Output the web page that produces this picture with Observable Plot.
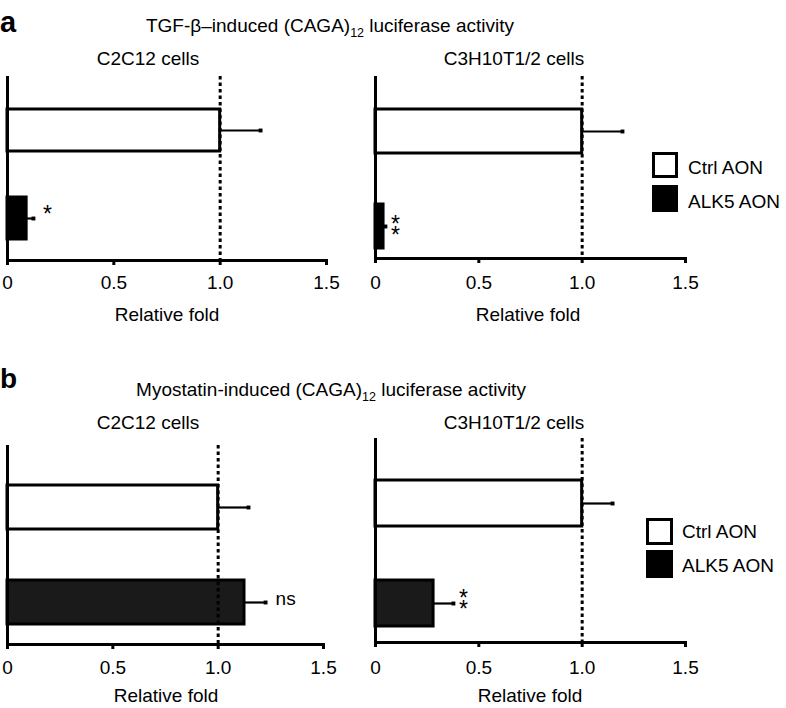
<!DOCTYPE html>
<html><head><meta charset="utf-8">
<script src="https://cdn.jsdelivr.net/npm/d3@7"></script>
<script src="https://cdn.jsdelivr.net/npm/@observablehq/plot@0.6"></script>
<style>
body{margin:0;background:#fff;}
#root{position:relative;width:786px;height:708px;font-family:"Liberation Sans",Arial,sans-serif;color:#000;overflow:hidden;}
#root svg{position:absolute;}
</style></head><body><div id="root"></div>
<script>
// ---- data ----
const groups = ["Ctrl AON", "ALK5 AON"];
const xTicks = [0, 0.5, 1.0, 1.5];
const tgfC2C12 = [1.0, 0.09];
const tgfC2C12Err = [0.19, 0.032];
const tgfC2C12Sig = ["", "*"];
const tgfC3H = [1.0, 0.039];
const tgfC3HErr = [0.195, 0.009];
const tgfC3HSig = ["", "*\n*"];
const mstnC2C12 = [1.0, 1.125];
const mstnC2C12Err = [0.144, 0.10];
const mstnC2C12Sig = ["", "ns"];
const mstnC3H = [1.0, 0.281];
const mstnC3HErr = [0.147, 0.096];
const mstnC3HSig = ["", "*\n*"];

const FONT = "'Liberation Sans', Arial, sans-serif";
const root = document.getElementById("root");

const panels = [
  {values: tgfC2C12, errs: tgfC2C12Err, sig: tgfC2C12Sig, left: 0, top: 0, width: 340, height: 340,
   ml: 7, mr: 14, mt: 76, mb: 80, pi: 0.525, po: 0.302, align: 0.617, fill: "#000", dx: 9.5, dy: 0, tp: 10},
  {values: tgfC3H, errs: tgfC3HErr, sig: tgfC3HSig, left: 360, top: 0, width: 340, height: 340,
   ml: 15, mr: 15, mt: 76, mb: 82, pi: 0.535, po: 0.225, align: 0.76, fill: "#000", dx: 5.5, dy: 7.9, tp: 12},
  {values: mstnC2C12, errs: mstnC2C12Err, sig: mstnC2C12Sig, left: 0, top: 380, width: 340, height: 328,
   ml: 7, mr: 17, mt: 65, mb: 64, pi: 0.539, po: 0.311, align: 0.664, fill: "#1a1a1a", dx: 10, dy: 0, tp: 11},
  {values: mstnC3H, errs: mstnC3HErr, sig: mstnC3HSig, left: 360, top: 380, width: 340, height: 328,
   ml: 15, mr: 15, mt: 58, mb: 66, pi: 0.542, po: 0.286, align: 0.73, fill: "#1a1a1a", dx: 5.5, dy: 4.9, tp: 13}
];

for (const c of panels) {
  const data = groups.map((g, i) => ({group: g, value: c.values[i], err: c.errs[i], sig: c.sig[i]}));
  const plot = Plot.plot({
    width: c.width, height: c.height,
    marginLeft: c.ml, marginRight: c.mr, marginTop: c.mt, marginBottom: c.mb,
    style: {background: "transparent", fontFamily: FONT, fontSize: "19px", overflow: "visible", color: "#000"},
    x: {domain: [0, 1.5], axis: null},
    y: {domain: groups, paddingInner: c.pi, paddingOuter: c.po, align: c.align, axis: null},
    color: {domain: groups, range: ["#fff", c.fill]},
    marks: [
      Plot.barX(data, {x: "value", y: "group", fill: "group", stroke: "#000", strokeWidth: 3}),
      Plot.ruleY(data, {y: "group", x1: "value", x2: d => d.value + d.err, stroke: "#000", strokeWidth: 2.2}),
      Plot.dot(data, {y: "group", x: d => d.value + d.err, symbol: "square", r: 2.2, fill: "#000"}),
      Plot.ruleX([1], {stroke: "#000", strokeWidth: 3, strokeDasharray: "3.5,3"}),
      Plot.ruleX([0], {stroke: "#000", strokeWidth: 3}),
      Plot.frame({anchor: "bottom", stroke: "#000", strokeWidth: 3}),
      Plot.axisX({ticks: xTicks, tickFormat: d => d === 0 ? "0" : d.toFixed(1), tickSize: 5,
        strokeWidth: 3, tickPadding: c.tp, label: null, fontSize: 19, fill: "#000"}),
      Plot.text(data.filter(d => d.sig), {x: d => d.value + d.err, y: "group", text: "sig",
        dx: c.dx, dy: c.dy, textAnchor: "start",
        fontSize: d => d.sig === "ns" ? 19 : 23, lineHeight: 0.48, fill: "#000"})
    ]
  });
  plot.style.left = c.left + "px";
  plot.style.top = c.top + "px";
  root.appendChild(plot);
}

// ---- titles, labels and legends ----
const svg = d3.select(root).append("svg")
  .attr("width", 786).attr("height", 708)
  .style("left", "0px").style("top", "0px")
  .style("pointer-events", "none")
  .attr("font-family", FONT).attr("fill", "#000");

function label(t, x, y, opts = {}) {
  svg.append("text").attr("x", x).attr("y", y)
    .attr("text-anchor", opts.anchor || "middle")
    .attr("font-size", opts.size || 19)
    .attr("font-weight", opts.weight || "normal")
    .text(t);
}
function title(pre, sub, post, x, y) {
  const t = svg.append("text").attr("x", x).attr("y", y).attr("text-anchor", "middle").attr("font-size", 19);
  t.append("tspan").text(pre);
  t.append("tspan").attr("dy", 5).attr("font-size", 12.5).text(sub);
  t.append("tspan").attr("dy", -5).text(post);
}

label("a", 0, 32, {anchor: "start", size: 29, weight: "bold"});
title("TGF-β–induced (CAGA)", "12", " luciferase activity", 330, 32);
label("C2C12 cells", 148, 65);
label("C3H10T1/2 cells", 514, 65);
label("Relative fold", 167, 321);
label("Relative fold", 528, 321);

label("b", 0, 388, {anchor: "start", size: 28, weight: "bold"});
title("Myostatin-induced (CAGA)", "12", " luciferase activity", 331, 396);
label("C2C12 cells", 148, 429);
label("C3H10T1/2 cells", 514, 429);
label("Relative fold", 166, 702);
label("Relative fold", 530, 702);

function legend(x, y1, y2, textX, base1, base2, size) {
  svg.append("rect").attr("x", x + 1.5).attr("y", y1 + 1.5).attr("width", size - 3).attr("height", size - 3)
    .attr("fill", "#fff").attr("stroke", "#000").attr("stroke-width", 3);
  svg.append("rect").attr("x", x).attr("y", y2).attr("width", size).attr("height", size + 1).attr("fill", "#000");
  label(groups[0], textX, base1, {anchor: "start"});
  label(groups[1], textX, base2, {anchor: "start"});
}
legend(652, 152, 185, 688, 174, 208, 26);
legend(646, 518, 550, 682, 538, 572, 27);
</script>
</body></html>
